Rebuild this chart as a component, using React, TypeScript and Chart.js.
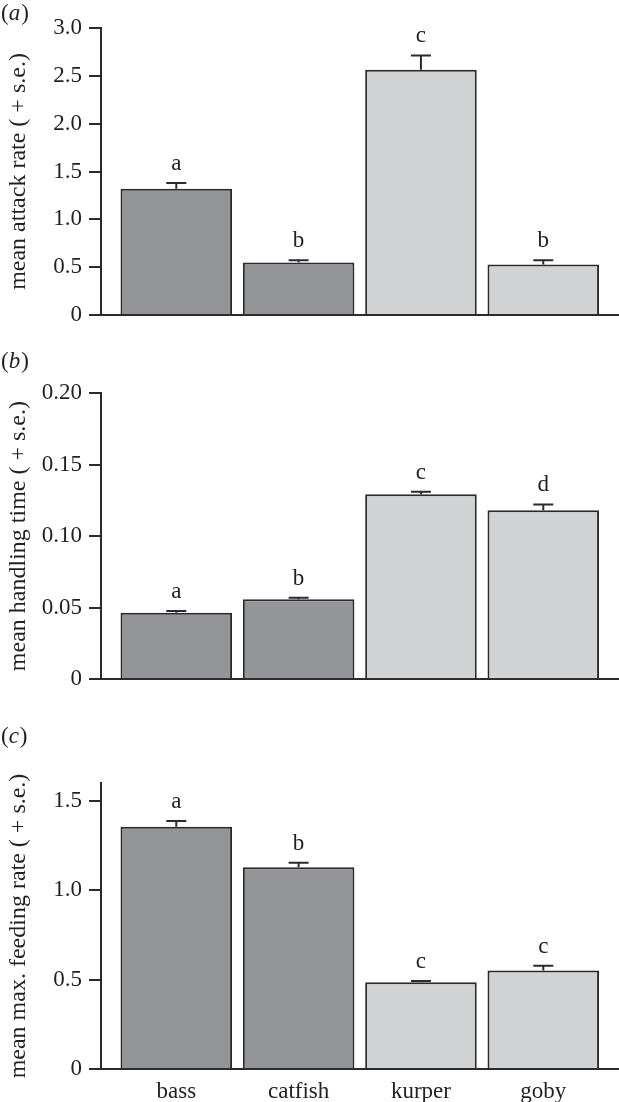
import React, { useEffect, useRef } from 'react';
import { Chart, registerables } from 'chart.js';

Chart.register(...registerables);

const FONT = '"Liberation Serif", "Times New Roman", serif';
Chart.defaults.font.family = FONT;

// ---- data ----
const categories = ['bass', 'catfish', 'kurper', 'goby'];
const barColors = ['#939598', '#939598', '#d1d3d4', '#d1d3d4'];

const attackRate = [1.32, 0.549, 2.563, 0.528];
const attackSE = [0.06, 0.024, 0.15, 0.045];
const attackLetters = ['a', 'b', 'c', 'b'];
const attackTicks = [0, 0.5, 1.0, 1.5, 2.0, 2.5, 3.0];
const attackTickLabels = ['0', '0.5', '1.0', '1.5', '2.0', '2.5', '3.0'];

const handlingTime = [0.0465, 0.0558, 0.1293, 0.1181];
const handlingSE = [0.0012, 0.0012, 0.0017, 0.004];
const handlingLetters = ['a', 'b', 'c', 'd'];
const handlingTicks = [0, 0.05, 0.1, 0.15, 0.2];
const handlingTickLabels = ['0', '0.05', '0.10', '0.15', '0.20'];

const feedingRate = [1.355, 1.128, 0.486, 0.551];
const feedingSE = [0.033, 0.026, 0.007, 0.026];
const feedingLetters = ['a', 'b', 'c', 'c'];
const feedingTicks = [0, 0.5, 1.0, 1.5];
const feedingTickLabels = ['0', '0.5', '1.0', '1.5'];

const AXIS = '#2b2b2b';
const TEXT = '#231f20';

type PanelProps = {
  tag: string;
  title: string;
  values: number[];
  se: number[];
  letters: string[];
  yMax: number;
  tickValues: number[];
  tickLabels: string[];
  showX: boolean;
  top: number;
  height: number;
  areaTop: number;
  areaBottom: number;
  tagBaseline: number;
};

function Panel(p: PanelProps) {
  const ref = useRef<HTMLCanvasElement | null>(null);
  useEffect(() => {
    if (!ref.current) return;
    const extras = {
      id: 'extras',
      afterDatasetsDraw(chart: any) {
        const ctx = chart.ctx;
        const ys = chart.scales.y;
        const meta = chart.getDatasetMeta(0);
        ctx.save();
        ctx.strokeStyle = AXIS;
        ctx.lineWidth = 2;
        ctx.fillStyle = TEXT;
        ctx.textAlign = 'center';
        ctx.textBaseline = 'alphabetic';
        ctx.font = `23px ${FONT}`;
        meta.data.forEach((bar: any, i: number) => {
          const x = bar.x;
          const yTop = ys.getPixelForValue(p.values[i]);
          const yErr = ys.getPixelForValue(p.values[i] + p.se[i]);
          ctx.beginPath();
          ctx.moveTo(x, yTop);
          ctx.lineTo(x, yErr);
          ctx.moveTo(x - 10, yErr);
          ctx.lineTo(x + 10, yErr);
          ctx.stroke();
          ctx.fillText(p.letters[i], x, yErr - 13);
        });
        // panel tag "(a)"
        ctx.textAlign = 'left';
        ctx.font = `23px ${FONT}`;
        let cx = 1;
        ctx.fillText('(', cx, p.tagBaseline);
        cx += ctx.measureText('(').width;
        ctx.font = `italic 23px ${FONT}`;
        ctx.fillText(p.tag, cx, p.tagBaseline);
        cx += ctx.measureText(p.tag).width + 1;
        ctx.font = `23px ${FONT}`;
        ctx.fillText(')', cx, p.tagBaseline);
        ctx.restore();
      },
    };
    const chart = new Chart(ref.current, {
      type: 'bar',
      data: {
        datasets: [
          {
            data: categories.map((_, i) => ({ x: i, y: p.values[i] })),
            backgroundColor: barColors,
            borderColor: AXIS,
            borderWidth: 2,
            barPercentage: 0.912,
            categoryPercentage: 1,
          },
        ],
      },
      options: {
        animation: false,
        responsive: false,
        devicePixelRatio: 1,
        layout: { padding: { top: p.areaTop, left: 0, right: 0, bottom: 0 } },
        plugins: { legend: { display: false }, tooltip: { enabled: false } },
        scales: {
          x: {
            type: 'linear',
            offset: false,
            bounds: 'data',
            min: -0.6155,
            max: 3.619,
            afterBuildTicks: (s: any) => {
              s.ticks = categories.map((_, i) => ({ value: i }));
            },
            afterFit: (s: any) => {
              s.height = p.height - p.areaBottom;
            },
            grid: { display: false, drawTicks: false, offset: false },
            border: { display: true, color: AXIS, width: 2 },
            ticks: {
              display: p.showX,
              padding: 9,
              color: TEXT,
              font: { size: 23, family: FONT },
              autoSkip: false,
              maxRotation: 0,
              callback: (v: any) => categories[v] ?? '',
            },
          },
          y: {
            min: 0,
            max: p.yMax,
            afterBuildTicks: (s: any) => {
              s.ticks = p.tickValues.map((v) => ({ value: v }));
            },
            afterFit: (s: any) => {
              s.width = 101;
            },
            grid: { drawOnChartArea: false, drawTicks: true, tickLength: 12, color: AXIS, lineWidth: 2 },
            border: { display: true, color: AXIS, width: 2 },
            ticks: {
              padding: 7,
              color: TEXT,
              font: { size: 23, family: FONT },
              callback: (_v: any, i: number) => p.tickLabels[i],
            },
            title: {
              display: true,
              text: p.title,
              color: TEXT,
              font: { size: 24, family: FONT },
              padding: { top: 4, bottom: 0 },
            },
          },
        },
      },
      plugins: [extras],
    } as any);
    return () => chart.destroy();
  }, []);
  return (
    <canvas
      ref={ref}
      width={619}
      height={p.height}
      style={{ position: 'absolute', left: 0, top: p.top, width: 619, height: p.height, display: 'block' }}
    />
  );
}

export default function App() {
  return (
    <div style={{ position: 'absolute', left: 0, top: 0, width: 619, height: 1102, background: '#fff' }}>
      <Panel
        tag="a"
        title="mean attack rate ( + s.e.)"
        values={attackRate}
        se={attackSE}
        letters={attackLetters}
        yMax={3}
        tickValues={attackTicks}
        tickLabels={attackTickLabels}
        showX={false}
        top={0}
        height={340}
        areaTop={28}
        areaBottom={315}
        tagBaseline={20}
      />
      <Panel
        tag="b"
        title="mean handling time ( + s.e.)"
        values={handlingTime}
        se={handlingSE}
        letters={handlingLetters}
        yMax={0.2}
        tickValues={handlingTicks}
        tickLabels={handlingTickLabels}
        showX={false}
        top={340}
        height={360}
        areaTop={53}
        areaBottom={340}
        tagBaseline={28}
      />
      <Panel
        tag="c"
        title="mean max. feeding rate ( + s.e.)"
        values={feedingRate}
        se={feedingSE}
        letters={feedingLetters}
        yMax={1.6}
        tickValues={feedingTicks}
        tickLabels={feedingTickLabels}
        showX={true}
        top={700}
        height={402}
        areaTop={83}
        areaBottom={369}
        tagBaseline={43}
      />
    </div>
  );
}
